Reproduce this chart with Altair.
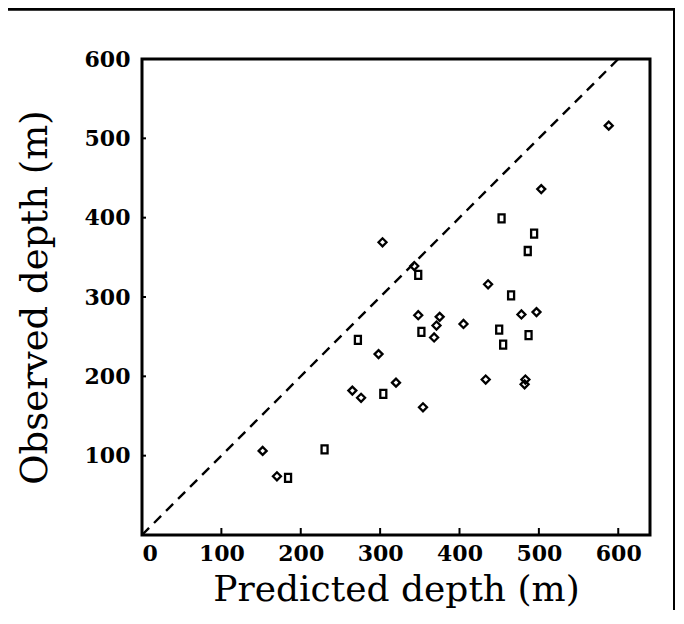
import altair as alt
import pandas as pd

# Diamonds (one group)
diamond_x = [152, 170, 265, 276, 298, 303, 320, 343, 348, 354, 368, 371, 375, 405, 433, 436, 478, 482, 483, 497, 503, 588]
diamond_y = [106, 74, 182, 173, 228, 369, 192, 339, 277, 161, 249, 264, 275, 266, 196, 316, 278, 190, 196, 281, 436, 516]
# Squares (other group)
square_x = [184, 230, 272, 304, 348, 352, 450, 453, 455, 465, 486, 487, 494]
square_y = [72, 108, 246, 178, 328, 256, 259, 399, 240, 302, 358, 252, 380]
# 1:1 line
line_x = [0, 600]
line_y = [0, 600]
# ticks
x_ticks = [0, 100, 200, 300, 400, 500, 600]
y_ticks = [100, 200, 300, 400, 500, 600]

W, H = 508, 476
PL, PT, PR, PB = 134, 51, 26, 75

diam = pd.DataFrame({"x": diamond_x, "y": diamond_y})
sq = pd.DataFrame({"x": square_x, "y": square_y})
ln = pd.DataFrame({"x": line_x, "y": line_y})
xt = pd.DataFrame({"x": x_ticks[1:]})
yt = pd.DataFrame({"y": y_ticks[:-1]})

xs = alt.Scale(domain=[0, 640], nice=False, zero=False)
ys = alt.Scale(domain=[0, 600], nice=False, zero=False)
x_axis = alt.Axis(values=x_ticks, title="Predicted depth (m)", ticks=False, domain=False, grid=False,
                  labelFont="DejaVu Serif", labelFontWeight="bold", labelFontSize=22,
                  labelColor="black", labelPadding=8,
                  titleFont="DejaVu Serif", titleFontWeight="normal", titleFontSize=36,
                  titleColor="black", titlePadding=8)
y_axis = alt.Axis(values=y_ticks, title="Observed depth (m)", ticks=False, domain=False, grid=False,
                  labelFont="DejaVu Serif", labelFontWeight="bold", labelFontSize=22,
                  labelColor="black", labelPadding=12,
                  titleFont="DejaVu Serif", titleFontWeight="normal", titleFontSize=37,
                  titleColor="black", titlePadding=30)
xe = alt.X("x:Q", scale=xs, axis=x_axis)
ye = alt.Y("y:Q", scale=ys, axis=y_axis)

square_path = "M-0.75,-1L0.75,-1L0.75,1L-0.75,1Z"

diamonds = alt.Chart(diam).mark_point(shape="diamond", filled=False, color="black",
                                      strokeWidth=2.3, size=64, opacity=1).encode(x=xe, y=ye)
squares = alt.Chart(sq).mark_point(shape=square_path, filled=False, color="black",
                                   strokeWidth=2.3, size=64, opacity=1).encode(x=xe, y=ye)
dline = alt.Chart(ln).mark_line(color="black", strokeWidth=2.4, strokeDash=[10, 7]).encode(x=xe, y=ye)

xticks = alt.Chart(xt).mark_rule(color="black", strokeWidth=2).encode(
    x=xe, y=alt.value(H), y2=alt.value(H - 7))
yticks = alt.Chart(yt).mark_rule(color="black", strokeWidth=2).encode(
    y=ye, x=alt.value(0), x2=alt.value(4))

frame_top = alt.Chart(ln).mark_rule(color="black", strokeWidth=3).encode(
    x=alt.value(-PL), x2=alt.value(W + PR - 1), y=alt.value(-PT + 1))
frame_right = alt.Chart(ln).mark_rule(color="black", strokeWidth=2).encode(
    x=alt.value(W + PR - 2), y=alt.value(-PT + 1), y2=alt.value(H + PB))

chart = alt.layer(dline, xticks, yticks, diamonds, squares, frame_top, frame_right).properties(
    width=W, height=H,
    autosize=alt.AutoSizeParams(type="none"),
    padding={"left": PL, "top": PT, "right": PR, "bottom": PB},
    background="white",
).configure_view(stroke="black", strokeWidth=3)

chart.save("out.html", embed_options={"renderer": "svg", "actions": False})
